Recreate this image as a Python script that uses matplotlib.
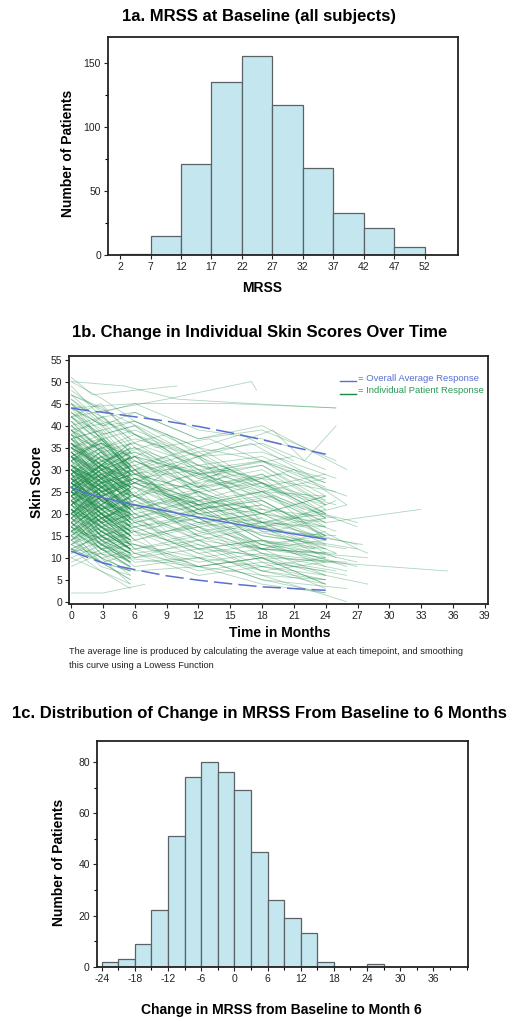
import numpy as np
import matplotlib
matplotlib.use("Agg")
import matplotlib.pyplot as plt
from matplotlib.collections import LineCollection
from matplotlib.ticker import MultipleLocator

plt.rcParams["font.family"] = ["Liberation Sans", "DejaVu Sans"]
plt.rcParams["axes.unicode_minus"] = False
NARROW = ["Liberation Sans Narrow", "Liberation Sans", "DejaVu Sans"]

# ---------------- 1a: baseline MRSS histogram ----------------
base_bin_left = [2, 7, 12, 17, 22, 27, 32, 37, 42, 47]
base_counts = [1, 15, 71, 135, 155, 117, 68, 33, 21, 6]
base_ticks = [2, 7, 12, 17, 22, 27, 32, 37, 42, 47, 52]

# ---------------- 1b: individual trajectories ----------------
# patients followed for the first six months only (visits at 0, 2.8, 5.6)
short_months = [0, 2.8, 5.6]
short_m0 = [31, 24, 18, 27, 35, 22, 14, 29, 40, 20,
            26, 33, 17, 23, 38, 28, 12, 25, 30, 21,
            19, 36, 27, 15, 24, 32, 42, 22, 29, 16,
            34, 25, 20, 28, 13, 37, 23, 31, 26, 18,
            44, 21, 27, 33, 11, 24, 30, 19, 35, 22,
            28, 16, 25, 39, 20, 31, 23, 14, 27, 34,
            24, 29, 17, 36, 22, 26, 47, 19, 32, 25,
            21, 30, 15, 28, 33, 23, 38, 18, 26, 12,
            29, 35, 20, 24, 41, 27, 16, 31, 22, 37,
            25, 19, 33, 28, 10, 23, 30, 45, 21, 26,
            34, 17, 29, 24, 36, 20, 27, 13, 32, 25,
            22, 39, 18, 30, 26, 15, 33, 23, 28, 43,
            19, 31, 25, 21, 35, 27, 8, 24, 29, 17,
            37, 22, 32, 26, 14, 30, 20, 49, 25, 23,
            27, 18, 33, 24, 30, 16, 38, 21, 28, 35,
            22, 29, 14, 36, 25, 19, 31, 26, 40, 17,
            30, 23, 20, 27, 45, 12, 34, 25, 18, 29,
            26, 37, 21, 32, 15, 24, 28, 42, 19, 33,
            23, 28, 17, 34, 20, 30, 26, 13, 36, 24,
            31, 21, 39, 25, 18, 27, 33, 22, 29, 16]
short_m3 = [24, 29, 12, 20, 37, 15, 19, 21, 33, 26,
            18, 36, 11, 27, 29, 31, 9, 17, 34, 13,
            25, 27, 31, 8, 18, 24, 45, 28, 20, 21,
            28, 31, 14, 19, 18, 39, 16, 35, 19, 24,
            37, 14, 33, 24, 16, 28, 22, 12, 38, 17,
            22, 21, 18, 31, 26, 25, 15, 10, 32, 27,
            16, 34, 10, 30, 27, 18, 41, 24, 23, 30,
            14, 23, 20, 20, 36, 17, 30, 11, 31, 7,
            21, 28, 26, 16, 34, 31, 9, 24, 28, 29,
            19, 24, 25, 33, 7, 15, 35, 37, 13, 20,
            26, 22, 20, 29, 31, 13, 21, 17, 36, 17,
            27, 32, 12, 23, 31, 10, 26, 28, 20, 38,
            12, 25, 30, 15, 28, 20, 11, 18, 34, 22,
            30, 15, 37, 19, 9, 24, 25, 42, 30, 16,
            23, 23, 26, 30, 25, 12, 33, 17, 24, 31,
            17, 24, 19, 32, 21, 14, 27, 31, 35, 13,
            25, 18, 25, 22, 40, 15, 29, 20, 13, 33,
            20, 31, 16, 27, 20, 29, 23, 36, 15, 28,
            19, 22, 22, 28, 16, 26, 21, 9, 30, 20,
            26, 17, 34, 21, 23, 22, 28, 26, 24, 20]
short_m6 = [19, 33, 15, 14, 30, 10, 22, 26, 24, 29,
            13, 28, 8, 30, 22, 35, 5, 20, 27, 10,
            28, 21, 25, 6, 23, 17, 38, 32, 15, 25,
            20, 27, 11, 15, 23, 30, 13, 26, 22, 30,
            30, 11, 29, 20, 19, 33, 17, 8, 29, 14,
            17, 24, 13, 27, 29, 19, 11, 4, 34, 21,
            12, 30, 7, 24, 33, 14, 35, 27, 17, 26,
            9, 19, 24, 16, 31, 12, 26, 6, 35, 3,
            16, 23, 22, 12, 27, 36, 7, 18, 31, 25,
            14, 27, 19, 29, 4, 11, 32, 30, 9, 16,
            21, 26, 15, 25, 26, 9, 16, 20, 33, 12,
            31, 29, 9, 18, 28, 7, 21, 33, 16, 33,
            8, 21, 34, 11, 24, 15, 13, 14, 29, 26,
            26, 11, 31, 14, 5, 19, 29, 37, 24, 12,
            20, 20, 22, 34, 21, 10, 28, 12, 18, 36,
            14, 18, 21, 25, 17, 9, 24, 28, 31, 16,
            22, 14, 27, 18, 34, 17, 23, 15, 10, 28,
            17, 26, 12, 22, 24, 25, 19, 33, 12, 23,
            15, 18, 26, 23, 13, 31, 16, 7, 26, 22,
            21, 13, 29, 17, 20, 18, 24, 30, 20, 15]

# patients with longer follow-up: visit months and scores per patient
long_months = [
    [0, 3, 6, 12, 18, 25], [0, 5, 10, 17, 25], [0, 4, 8, 14, 20, 26],
    [0, 3, 6, 12, 19, 24], [0, 2, 6, 11, 17, 23], [0, 3, 7, 13, 18, 24],
    [0, 3, 6, 12, 18, 27], [0, 3, 6, 10, 15, 22], [0, 4, 9, 14, 21],
    [0, 3, 6, 12, 18, 24], [0, 3, 6, 12, 18, 25], [0, 3, 6, 12, 19, 26],
    [0, 3, 6, 9, 15, 21, 25], [0, 3, 6, 12, 18, 24], [0, 3, 6, 12, 18, 24],
    [0, 3, 6, 12, 17, 23], [0, 3, 6, 12, 18, 24], [0, 3, 6, 12, 18, 24],
    [0, 3, 6, 11, 18, 26], [0, 3, 6, 12, 18, 24], [0, 3, 6, 12, 20, 25],
    [0, 3, 6, 12, 18, 24], [0, 3, 6, 9, 15, 24], [0, 3, 6, 12, 18, 24],
    [0, 3, 6, 12, 18, 25], [0, 3, 6, 12, 18, 24], [0, 3, 6, 12, 19, 22, 25],
    [0, 3, 6, 12, 18, 26], [0, 3, 6, 12, 18, 24], [0, 3, 6, 12, 18, 25],
    [0, 3, 6, 12, 18, 21], [0, 3, 6, 12, 18, 24], [0, 3, 6, 12, 18, 24],
    [0, 3, 6, 12, 18, 24], [0, 3, 6, 12, 18, 27], [0, 3, 6, 12, 18, 24],
    [0, 3, 6, 12, 18, 24], [0, 3, 6, 12, 18, 25], [0, 3, 6, 12, 18, 24],
    [0, 3, 6, 12, 18, 26], [0, 3, 6, 12, 18, 24], [0, 3, 6, 12, 18, 24],
    [0, 3, 6, 12, 18, 25], [0, 3, 6, 12, 18, 24], [0, 3, 6, 12, 18, 24],
    [0, 3, 6, 12, 18, 27], [0, 3, 6, 12, 18, 24], [0, 3, 6, 12, 18, 24],
    [0, 3, 6, 12, 18, 24], [0, 3, 6, 12, 18, 25], [0, 3, 6, 12, 18, 24],
    [0, 3, 6, 12, 18, 24], [0, 3, 6, 12, 18, 26], [0, 3, 6, 12, 18, 24],
    [0, 3, 6, 12, 18, 24], [0, 3, 6, 12, 18, 24], [0, 3, 6, 12, 18, 28],
    [0, 3, 6, 12, 18, 24], [0, 3, 6, 12, 18, 24], [0, 3, 6, 12, 18, 25],
    [0, 3, 6, 8, 12], [0, 3, 6, 9, 12], [0, 3, 6, 12, 18, 24],
    [0, 3, 6, 9, 12], [0, 3, 6, 10, 15], [0, 3, 6, 9, 13],
    [0, 3, 6, 12, 16, 21], [0, 3, 6, 12, 18], [0, 3, 6, 9, 11],
    [0, 4, 8, 13, 19, 24], [0, 3, 6, 12, 18, 24], [0, 3, 6, 12, 18, 24],
    [0, 3, 6, 12, 18, 26], [0, 3, 6, 12, 18, 24], [0, 3, 6, 12, 18, 24],
    [0, 3, 6, 12, 18, 25], [0, 3, 6, 12, 18, 24], [0, 3, 6, 12, 18, 27],
    [0, 3, 6, 12, 18, 24], [0, 3, 6, 12, 18, 24],
    [0, 6, 12, 24, 35.5], [0, 6, 12, 24, 33], [0, 5, 12, 18, 26],
    [0, 9, 17, 17.5], [0, 6, 15, 25], [0, 12, 27, 28],
    [0, 6, 12, 18, 25, 27.5], [0, 6, 12, 24, 28], [0, 3, 7],
    [0, 2, 6, 10], [0, 4, 9, 15, 21, 26], [0, 7, 14, 22, 27],
    [0, 3, 6, 12], [0, 3, 6, 12, 18], [0, 6, 12, 18, 24],
    [0, 3, 6, 9, 15], [0, 3, 6, 12, 18, 24], [0, 3, 6, 12, 24],
    [0, 2, 5, 10, 16, 22], [0, 3, 6, 12, 18, 24], [0, 3, 6, 12, 18, 24],
    [0, 3, 6, 12, 20], [0, 3, 6, 9, 12, 18], [0, 3, 6, 12, 18, 26],
    [0, 3, 6, 12, 18, 24], [0, 3, 6, 10, 14, 19, 24], [0, 3, 6, 12],
    [0, 3, 6, 12, 18], [0, 3, 6, 12, 18, 24], [0, 3, 6, 12, 18, 25],
    [0, 3, 6, 9, 12, 15], [0, 4, 8, 12, 18, 24], [0, 3, 6, 12, 18, 24],
    [0, 3, 6, 12, 18, 24], [0, 3, 6, 12, 18], [0, 3, 6, 12, 18, 24],
    [0, 3, 6, 12, 18, 26], [0, 3, 6, 12, 15], [0, 3, 6, 12, 18, 24],
    [0, 3, 6, 9, 14, 20, 25], [0, 3, 6, 12, 18, 24], [0, 3, 6, 12, 18, 24],
    [0, 3, 6, 12, 18, 24], [0, 3, 6, 12, 18, 24], [0, 3, 6, 12, 18, 24],
    [0, 3, 6, 12, 18, 27], [0, 3, 6, 12, 18, 24], [0, 3, 6, 12, 18, 24],
    [0, 3, 6, 9, 12], [0, 3, 6, 12, 18, 24], [0, 3, 6, 12, 18, 24],
    [0, 3, 6, 12, 18, 23],
]
long_scores = [
    [44, 40, 43, 37, 39, 32], [50, 49, 46, 45, 44], [38, 33, 36, 27, 29, 24],
    [29, 32, 27, 21, 24, 14], [22, 25, 19, 23, 14, 12], [35, 30, 34, 25, 29, 21],
    [18, 14, 17, 11, 13, 8], [26, 30, 24, 28, 19, 17], [41, 35, 38, 30, 33],
    [31, 27, 30, 22, 25, 17], [24, 19, 23, 15, 18, 10], [15, 19, 12, 15, 9, 6],
    [33, 29, 31, 24, 27, 19, 23], [20, 24, 17, 20, 13, 11], [28, 24, 27, 26, 20, 24],
    [46, 41, 38, 33, 36, 28], [12, 15, 10, 12, 6, 5], [37, 32, 35, 28, 31, 22],
    [25, 29, 21, 24, 15, 12], [30, 25, 29, 21, 23, 15], [19, 22, 15, 17, 9, 7],
    [34, 28, 32, 26, 29, 20], [23, 19, 22, 16, 19, 12], [42, 38, 40, 31, 33, 27],
    [27, 31, 22, 25, 16, 15], [16, 12, 14, 8, 10, 4], [39, 35, 37, 33, 39, 32, 40],
    [21, 17, 19, 12, 14, 8], [32, 35, 29, 31, 25, 28], [26, 21, 24, 16, 18, 11],
    [48, 43, 45, 39, 37, 35], [14, 17, 11, 13, 7, 4], [36, 31, 34, 27, 30, 22],
    [24, 27, 20, 23, 17, 19], [29, 25, 28, 21, 23, 12], [17, 13, 16, 10, 12, 6],
    [43, 39, 41, 34, 36, 30], [22, 26, 18, 21, 12, 11], [31, 27, 29, 25, 20, 24],
    [10, 13, 8, 10, 5, 3], [35, 30, 33, 26, 28, 19], [27, 23, 26, 19, 21, 15],
    [20, 24, 16, 19, 11, 9], [40, 35, 38, 30, 32, 26], [25, 21, 24, 18, 20, 13],
    [33, 28, 31, 23, 25, 17], [18, 21, 14, 17, 9, 7], [28, 24, 27, 22, 24, 18],
    [13, 10, 12, 7, 9, 3], [38, 34, 36, 31, 28, 25], [23, 27, 19, 22, 14, 12],
    [30, 26, 28, 20, 22, 15], [45, 42, 43, 37, 40, 30], [19, 15, 18, 12, 14, 8],
    [26, 29, 21, 24, 18, 17], [34, 29, 32, 25, 27, 19], [21, 18, 20, 15, 12, 10],
    [36, 32, 34, 29, 31, 23], [16, 19, 12, 14, 7, 5], [29, 25, 27, 20, 22, 16],
    [24, 20, 23, 26, 21], [32, 27, 30, 22, 25], [11, 14, 9, 10, 5, 2],
    [27, 23, 25, 19, 21], [37, 33, 35, 28, 30], [22, 18, 20, 14, 16],
    [44, 40, 41, 35, 38, 32], [30, 26, 28, 23, 21], [17, 14, 16, 10, 9],
    [39, 41, 35, 37, 31, 27], [25, 21, 23, 17, 19, 14], [33, 37, 30, 34, 26, 22],
    [20, 16, 18, 13, 10, 9], [28, 32, 24, 27, 20, 17], [15, 12, 13, 8, 10, 4],
    [42, 37, 39, 33, 34, 28], [23, 19, 22, 16, 12, 11], [31, 27, 29, 22, 18, 13],
    [9, 12, 7, 8, 4, 2], [35, 31, 33, 29, 25, 24],
    [20, 16, 12, 9, 7], [30, 26, 22, 18, 21], [12, 10, 8, 6, 0],
    [42, 46, 50, 48], [44, 45, 45, 44], [25, 18, 12, 11],
    [28, 24, 20, 17, 14, 13], [16, 13, 10, 6, 4], [2, 2, 4],
    [51, 47, 48, 49], [33, 29, 31, 26, 30, 22], [47, 39, 30, 21, 18],
    [46, 40, 33, 22], [40, 42, 36, 28, 24], [35, 27, 33, 18, 21],
    [19, 24, 28, 25, 30], [28, 22, 30, 19, 12, 16], [33, 26, 20, 14, 10],
    [25, 29, 23, 31, 26, 21], [42, 36, 29, 25, 20, 14], [14, 18, 22, 17, 13, 15],
    [37, 39, 31, 35, 24], [30, 24, 27, 31, 24, 19], [22, 17, 13, 9, 11, 7],
    [47, 44, 38, 31, 27, 20], [27, 21, 26, 18, 23, 16, 19], [36, 28, 24, 15],
    [24, 28, 33, 29, 22], [18, 13, 10, 14, 8, 10], [39, 34, 28, 30, 21, 19],
    [32, 37, 30, 33, 26, 29], [26, 20, 17, 21, 15, 13], [45, 38, 40, 29, 32, 24],
    [21, 25, 19, 23, 27, 20], [33, 29, 24, 18, 20], [12, 9, 11, 6, 8, 5],
    [29, 33, 26, 20, 17, 22], [43, 37, 32, 26, 31], [25, 20, 17, 19, 13, 9],
    [36, 30, 33, 27, 31, 25, 22], [16, 20, 14, 18, 12, 14], [31, 26, 21, 25, 18, 20],
    [50, 46, 41, 35, 32, 28], [23, 18, 21, 14, 17, 10], [38, 42, 35, 30, 26, 29],
    [27, 23, 18, 22, 14, 9], [20, 15, 17, 11, 7, 9], [34, 36, 29, 33, 27, 23],
    [41, 34, 30, 24, 20], [26, 31, 27, 22, 25, 18], [13, 16, 11, 8, 10, 6],
    [30, 25, 28, 23, 16, 12],
]

avg_months = [0, 1, 3, 6, 9, 12, 15, 18, 21, 24]
avg_mean = [26.0, 25.0, 23.6, 22.0, 20.6, 19.2, 17.9, 16.6, 15.4, 14.2]
avg_upper = [44.0, 43.6, 43.0, 42.0, 41.0, 39.8, 38.4, 36.8, 35.1, 33.5]
avg_lower = [11.5, 10.6, 8.8, 7.3, 5.9, 4.9, 4.1, 3.4, 3.0, 2.6]

# ---------------- 1c: change from baseline histogram ----------------
change_bin_left = [-24, -21, -18, -15, -12, -9, -6, -3, 0, 3, 6, 9, 12,
                   15, 18, 21, 24, 27, 30, 33, 36]
change_counts = [2, 3, 9, 22, 51, 74, 80, 76, 69, 45, 26, 19, 13,
                 2, 0, 0, 1, 0, 0, 0, 0]
change_ticks = [-24, -18, -12, -6, 0, 6, 12, 18, 24, 30, 36]

W, H = 513, 1021
fig = plt.figure(figsize=(W / 100, H / 100), dpi=100)

BAR_FACE = "#c4e6ef"
BAR_EDGE = "#5a6266"
GREEN = "#168a45"
BLUE = "#5b6fd1"


def style_axes(ax):
    for s in ax.spines.values():
        s.set_linewidth(1.3)
        s.set_color("#222222")
    ax.tick_params(direction="out", length=3, width=0.8, labelsize=7.5,
                   colors="#222222", pad=2)
    ax.tick_params(which="minor", direction="out", length=2, width=0.8)
    for lab in ax.get_xticklabels() + ax.get_yticklabels():
        lab.set_family(NARROW)


def fx(px):
    return px / W


def fy(py):
    return 1 - py / H


# ---- 1a
ax1 = fig.add_axes([fx(108), fy(255), fx(350), 218 / H])
ax1.bar(base_bin_left, base_counts, width=5, align="edge",
        color=BAR_FACE, edgecolor=BAR_EDGE, linewidth=0.9)
ax1.set_xlim(0, 57.5)
ax1.set_ylim(0, 170)
ax1.set_xticks(base_ticks)
ax1.set_yticks([0, 50, 100, 150])
ax1.yaxis.set_minor_locator(MultipleLocator(25))
style_axes(ax1)
fig.text(fx(259), fy(16), "1a. MRSS at Baseline (all subjects)",
         ha="center", va="center", fontsize=12, fontweight="bold")
fig.text(fx(68), fy(153), "Number of Patients", rotation=90,
         ha="center", va="center", fontsize=10, fontweight="bold")
fig.text(fx(262), fy(288), "MRSS", ha="center", va="center",
         fontsize=10, fontweight="bold")

# ---- 1b
ax2 = fig.add_axes([fx(69), fy(604), fx(419), 248 / H])
segs = []
for a, b, c in zip(short_m0, short_m3, short_m6):
    segs.append(np.column_stack([short_months, [a, b, c]]))
for t, v in zip(long_months, long_scores):
    segs.append(np.column_stack([t, v]))
ax2.add_collection(LineCollection(segs, colors=GREEN, linewidths=0.6,
                                  alpha=0.35))
ax2.plot(avg_months, avg_mean, color=BLUE, lw=1.1)
ax2.plot(avg_months, avg_upper, color=BLUE, lw=1.1, dashes=(12, 4))
ax2.plot(avg_months, avg_lower, color=BLUE, lw=1.1, dashes=(12, 4))
ax2.set_xlim(-0.2, 39.3)
ax2.set_ylim(-0.5, 55.8)
ax2.set_xticks(range(0, 40, 3))
ax2.set_yticks(range(0, 56, 5))
style_axes(ax2)
ax2.plot([0.647, 0.685], [0.899, 0.899], transform=ax2.transAxes,
         color=BLUE, lw=1.0)
ax2.plot([0.647, 0.685], [0.847, 0.847], transform=ax2.transAxes,
         color=GREEN, lw=1.0)
ax2.text(0.689, 0.911, "= Overall Average Response", transform=ax2.transAxes,
         color=BLUE, fontsize=6.8, family=NARROW, va="center")
ax2.text(0.689, 0.859, "= Individual Patient Response", transform=ax2.transAxes,
         color="#2a9a55", fontsize=6.8, family=NARROW, va="center")
fig.text(fx(260), fy(333), "1b. Change in Individual Skin Scores Over Time",
         ha="center", va="center", fontsize=12, fontweight="bold")
fig.text(fx(37), fy(482), "Skin Score", rotation=90,
         ha="center", va="center", fontsize=10, fontweight="bold")
fig.text(fx(280), fy(633), "Time in Months", ha="center", va="center",
         fontsize=10, fontweight="bold")
fig.text(fx(69), fy(652),
         "The average line is produced by calculating the average value at each timepoint, and smoothing",
         ha="left", va="center", fontsize=6.65, family=NARROW, color="#222222")
fig.text(fx(69), fy(666), "this curve using a Lowess Function",
         ha="left", va="center", fontsize=6.65, family=NARROW, color="#222222")

# ---- 1c
ax3 = fig.add_axes([fx(96.7), fy(966.7), fx(371), 225.7 / H])
ax3.bar(change_bin_left, change_counts, width=3, align="edge",
        color=BAR_FACE, edgecolor=BAR_EDGE, linewidth=0.9)
ax3.set_xlim(-24.9, 42.2)
ax3.set_ylim(0, 88.2)
ax3.set_xticks(change_ticks)
ax3.xaxis.set_minor_locator(MultipleLocator(3))
ax3.set_yticks([0, 20, 40, 60, 80])
ax3.yaxis.set_minor_locator(MultipleLocator(10))
style_axes(ax3)
fig.text(fx(259), fy(713),
         "1c. Distribution of Change in MRSS From Baseline to 6 Months",
         ha="center", va="center", fontsize=12, fontweight="bold")
fig.text(fx(59), fy(862), "Number of Patients", rotation=90,
         ha="center", va="center", fontsize=10, fontweight="bold")
fig.text(fx(281), fy(1010), "Change in MRSS from Baseline to Month 6",
         ha="center", va="center", fontsize=10, fontweight="bold")

fig.savefig("out.png", dpi=100, facecolor="white")
